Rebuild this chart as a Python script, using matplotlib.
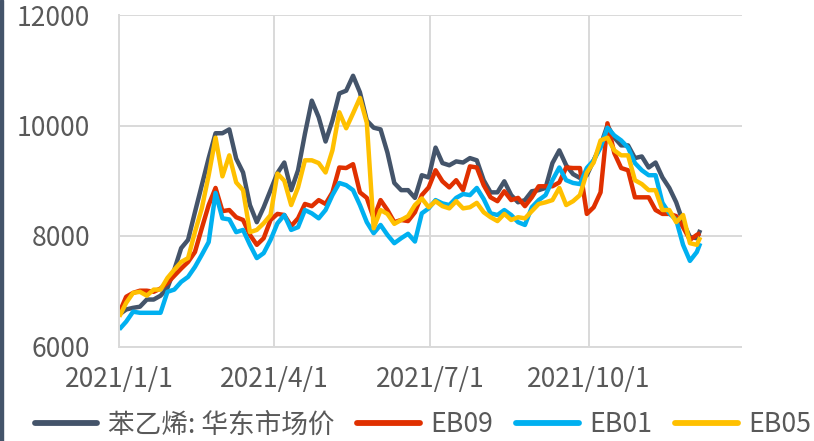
import numpy as np
import pandas as pd
import matplotlib
matplotlib.use('Agg')
import matplotlib.pyplot as plt
from matplotlib.patches import Rectangle

plt.rcParams['font.family'] = ['Noto Sans CJK SC', 'DejaVu Sans']

# ---- data ----
dates = list(pd.date_range('2021-01-01', periods=85, freq='4D')) + [pd.Timestamp('2021-12-05')]

spot_east_china = [6580, 6670, 6700, 6720, 6850, 6850, 6920, 7060, 7390, 7780,
                   7930, 8430, 8920, 9410, 9860, 9860, 9930, 9400, 9150, 8560,
                   8250, 8520, 8830, 9140, 9330, 8830, 9190, 9850, 10450, 10150,
                   9710, 10090, 10580, 10630, 10900, 10600, 10090, 9960, 9930, 9510,
                   8960, 8830, 8830, 8690, 9100, 9060, 9600, 9320, 9280, 9350,
                   9330, 9410, 9370, 9010, 8790, 8790, 8990, 8740, 8610, 8650,
                   8810, 8830, 8870, 9320, 9550, 9280, 9120, 9050, 9100, 9370,
                   9640, 10000, 9780, 9640, 9640, 9410, 9440, 9240, 9330, 9060,
                   8870, 8610, 8250, 7980, 7960, 8110]

eb09 = [6610, 6900, 6970, 7010, 7010, 6990, 7050, 7150, 7280, 7410,
        7530, 7710, 8140, 8560, 8870, 8450, 8470, 8340, 8290, 8020,
        7840, 7960, 8290, 8400, 8380, 8180, 8320, 8580, 8540, 8650,
        8580, 8790, 9240, 9230, 9300, 8790, 8690, 8320, 8650, 8470,
        8250, 8290, 8270, 8430, 8740, 8880, 9190, 8990, 8880, 9010,
        8830, 9260, 9240, 8920, 8700, 8630, 8810, 8650, 8690, 8540,
        8700, 8900, 8900, 8900, 8970, 9240, 9230, 9230, 8400, 8520,
        8790, 10040, 9500, 9230, 9190, 8700, 8700, 8700, 8470, 8400,
        8400, 8360, 8160, 7930, 8020, 8050]

eb01 = [6310, 6450, 6630, 6610, 6610, 6610, 6610, 6990, 7030, 7170,
        7260, 7440, 7660, 7890, 8780, 8320, 8300, 8070, 8110, 7840,
        7600, 7690, 7930, 8230, 8380, 8110, 8160, 8470, 8410, 8320,
        8470, 8740, 8960, 8920, 8830, 8560, 8250, 8050, 8200, 8020,
        7870, 7960, 8040, 7900, 8410, 8500, 8650, 8590, 8560, 8690,
        8760, 8740, 8870, 8670, 8410, 8380, 8470, 8380, 8250, 8200,
        8520, 8650, 8740, 9010, 9240, 9010, 8960, 8940, 9230, 9370,
        9600, 9960, 9820, 9730, 9600, 9320, 9190, 9100, 9100, 8600,
        8410, 8290, 7840, 7550, 7710, 7870]

eb05 = [6540, 6790, 6970, 6990, 6920, 7030, 7030, 7240, 7390, 7530,
        7600, 8070, 8500, 9100, 9780, 9080, 9460, 8970, 8830, 8070,
        8110, 8230, 8380, 9130, 9000, 8560, 8880, 9370, 9370, 9320,
        9150, 9550, 10240, 9950, 10220, 10500, 10050, 8140, 8470, 8400,
        8220, 8290, 8360, 8560, 8680, 8520, 8630, 8540, 8500, 8630,
        8500, 8520, 8600, 8430, 8340, 8270, 8400, 8290, 8340, 8320,
        8450, 8580, 8610, 8650, 8870, 8560, 8630, 8740, 9150, 9330,
        9730, 9780, 9550, 9460, 9460, 9010, 8940, 8830, 8830, 8470,
        8470, 8250, 8380, 7870, 7840, 7980]

series_names = ['苯乙烯: 华东市场价', 'EB09', 'EB01', 'EB05']
series_values = [spot_east_china, eb09, eb01, eb05]
series_colors = ['#44546A', '#E03000', '#00B0F0', '#FFC000']

y_ticks = [6000, 8000, 10000, 12000]
x_tick_dates = ['2021-01-01', '2021-04-01', '2021-07-01', '2021-10-01']
x_tick_labels = ['2021/1/1', '2021/4/1', '2021/7/1', '2021/10/1']

# ---- figure ----
W, H = 814, 441
fig = plt.figure(figsize=(W / 100, H / 100), dpi=100)
ax = fig.add_axes([119.3 / W, 1 - 346.5 / H, (741.5 - 119.3) / W, (346.5 - 15) / H])

for vals, name, col in zip(series_values, series_names, series_colors):
    ax.plot(dates, vals, color=col, lw=3.2, label=name,
            solid_joinstyle='round', solid_capstyle='butt')

ax.set_ylim(6000, 12000)
ax.set_yticks(y_ticks)
ax.set_yticklabels([str(v) for v in y_ticks])
ax.set_xlim(pd.Timestamp('2021-01-01'), pd.Timestamp('2021-12-29'))
ax.set_xticks(pd.to_datetime(x_tick_dates))
ax.set_xticklabels(x_tick_labels)

grid_col = '#D9D9D9'
ax.grid(True, color=grid_col, lw=1.4)
ax.set_axisbelow(True)
for s in ['top', 'right']:
    ax.spines[s].set_visible(False)
for s in ['left', 'bottom']:
    ax.spines[s].set_color(grid_col)
    ax.spines[s].set_linewidth(1.4)

ax.tick_params(axis='both', length=0, labelsize=19, colors='#595959')
ax.tick_params(axis='y', pad=21)
ax.tick_params(axis='x', pad=14)

leg = fig.legend(loc='center', bbox_to_anchor=(423 / W, 1 - 425 / H), ncol=4,
                 frameon=False, fontsize=19.2, handlelength=2.35, handletextpad=0.4,
                 columnspacing=0.85, borderaxespad=0, borderpad=0)
for t in leg.get_texts():
    t.set_color('#595959')
for l in leg.get_lines():
    l.set_linewidth(4.2)
    l.set_solid_capstyle('round')

fig.patches.append(Rectangle((0, 0), 3 / W, 1, transform=fig.transFigure,
                             color='#44546A', zorder=10))

fig.savefig('out.png', dpi=100)
